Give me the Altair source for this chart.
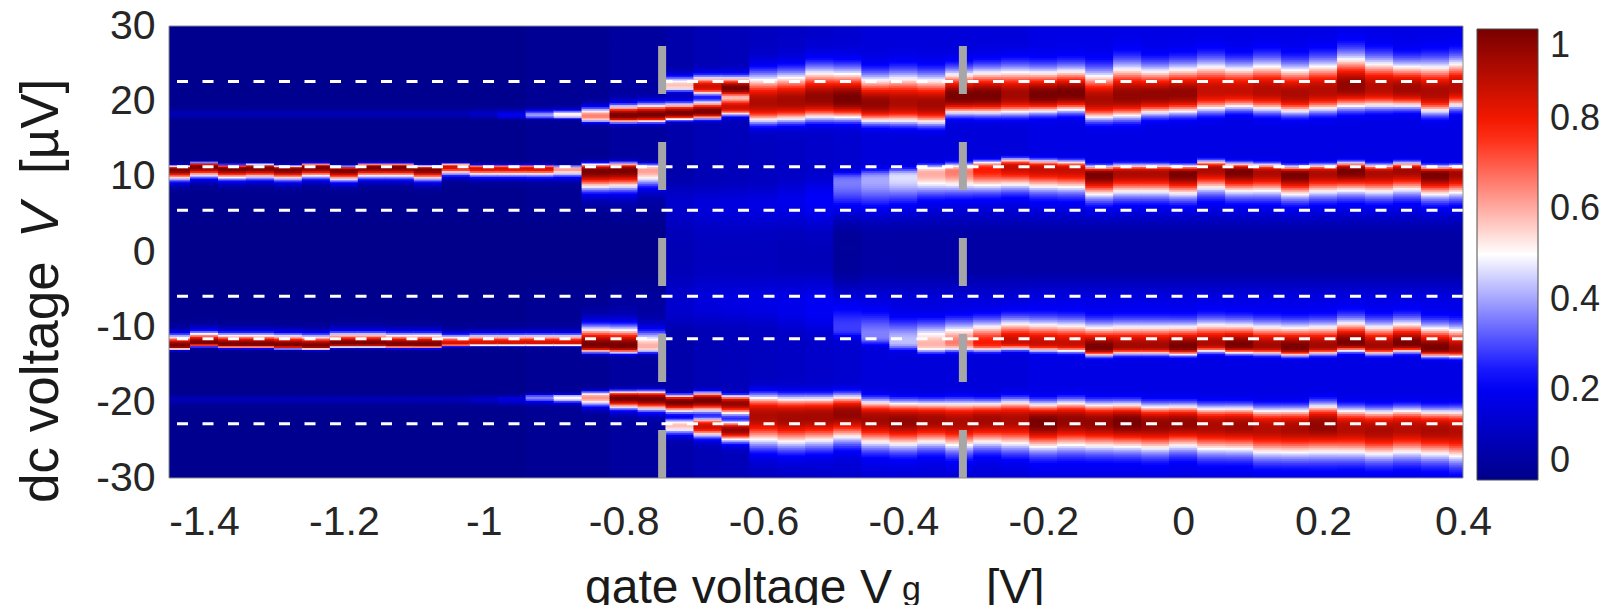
import altair as alt
import numpy as np
import pandas as pd

# ---------------- data ----------------
# gate-voltage column centres [V]
X_CENTERS = [-1.44, -1.40, -1.36, -1.32, -1.28, -1.24, -1.20, -1.16, -1.12, -1.08,
             -1.04, -1.00, -0.96, -0.92, -0.88, -0.84, -0.80, -0.76, -0.72, -0.68,
             -0.64, -0.60, -0.56, -0.52, -0.48, -0.44, -0.40, -0.36, -0.32, -0.28,
             -0.24, -0.20, -0.16, -0.12, -0.08, -0.04, 0.00, 0.04, 0.08, 0.12,
             0.16, 0.20, 0.24, 0.28, 0.32, 0.36, 0.40]
Y_STEP = 0.25

# upper inner band (~ +11 uV): centre, half-width, amplitude per column
UI_C = [10.9, 11.3, 11.0, 11.1, 10.9, 11.2, 10.8, 11.2, 11.2, 10.9,
        11.3, 11.1, 11.1, 11.1, 11.0, 10.7, 10.8, 10.8, 6.0, 5.5,
        5.5, 5.5, 6.0, 6.5, 9.2, 9.5, 9.8, 10.4, 10.6, 10.9,
        11.2, 11.0, 10.9, 10.2, 10.4, 10.4, 10.3, 10.9, 10.6, 10.5,
        10.2, 10.4, 10.7, 10.4, 10.7, 10.2, 10.3]
UI_H = [0.5] * 10 + [0.4] * 5 + [0.9, 0.9, 0.8] + [2.5] * 6 + [1.2, 1.2, 1.1, 1.0, 1.0] + [1.0] * 18
UI_A = [1, 1, 1, 1, 1, 1, 1, 1, 1, 1,
        0.85, 0.85, 0.85, 0.85, 0.62, 1, 1, 0.6, 0.07, 0.08,
        0.08, 0.08, 0.08, 0.1, 0.26, 0.3, 0.37, 0.53, 0.6, 0.75,
        0.85, 0.85, 0.85, 1.0, 0.9, 0.9, 1.0, 0.9, 1.0, 0.9,
        1.0, 0.9, 1.0, 0.9, 0.92, 1.0, 0.92]

# upper outer band (~ +18 .. +22 uV)
UO_C = [18.3] * 12 + [18.2, 18.2, 18.2, 18.1, 18.2, 18.3, 18.5, 18.7, 19.3,
        20.0, 20.2, 20.6, 20.5, 19.9, 20.0, 19.8, 20.8, 20.9, 21.0,
        21.0, 21.2, 20.4, 20.9, 21.0, 21.2, 21.6, 21.6, 21.6, 21.2,
        21.6, 22.2, 22.0, 21.8, 21.4, 22.0]
UO_H = [0.45] * 15 + [0.8, 0.9, 0.95, 0.85, 0.9, 1.0,
        2.45, 2.45, 2.55, 2.45, 2.3, 2.45, 2.4, 2.1, 2.2, 2.3,
        2.1, 2.1, 2.35, 2.6, 2.3, 2.35, 2.45, 2.2, 2.45, 2.35,
        2.45, 2.6, 2.4, 2.2, 2.5, 2.4]
UO_A = [0.07] * 11 + [0.1, 0.18, 0.38, 0.52, 0.65, 1.0, 1.0, 1.0, 1.0, 0.85,
        0.9, 0.92, 0.95, 1.0, 0.95, 0.9, 0.92, 1.0, 1.0, 0.92,
        1.0, 1.0, 0.9, 0.95, 0.95, 0.95, 0.85, 0.85, 0.88, 0.9,
        0.88, 0.95, 0.88, 0.92, 0.9, 0.88]

# lower inner band (~ -12 uV)
LI_C = [-12.4, -12.0, -12.2, -12.2, -12.3, -12.4, -12.1, -12.1, -12.2, -12.2,
        -12.1, -12.0, -12.0, -12.0, -12.0, -12.3, -12.4, -12.5, -7.0, -6.5,
        -6.5, -6.5, -7.0, -7.5, -10.0, -11.0, -11.8, -12.2, -12.0, -12.0,
        -11.8, -12.0, -12.1, -12.6, -12.4, -12.4, -12.5, -12.1, -12.3, -12.4,
        -12.6, -12.4, -12.0, -12.4, -12.1, -12.7, -12.8]
LI_H = [0.5] * 10 + [0.4] * 5 + [0.9, 0.9, 0.8] + [2.5] * 6 + [1.2, 1.1, 1.0, 1.0, 1.0] + [1.0] * 18
LI_A = [1, 1, 1, 1, 1, 1, 1, 1, 1, 1,
        0.85, 0.85, 0.85, 0.85, 0.85, 1, 1, 0.58, 0.07, 0.08,
        0.08, 0.08, 0.08, 0.09, 0.18, 0.25, 0.33, 0.52, 0.6, 0.75,
        0.85, 0.85, 0.85, 1.0, 0.92, 0.92, 1.0, 0.9, 1.0, 0.92,
        1.0, 0.92, 1.0, 0.92, 1.0, 1.0, 0.92]

# lower outer band (~ -19 .. -24 uV)
LO_C = [-19.6] * 13 + [-19.4, -19.4, -19.4, -19.5, -19.6, -20.0, -19.8, -20.2,
        -21.95, -22.15, -22.05, -21.7, -22.4, -22.6, -22.5, -22.7, -22.5, -22.5,
        -22.8, -22.6, -22.8, -22.8, -23.05, -22.9, -23.25, -23.25, -23.6, -23.6,
        -23.25, -23.6, -23.8, -23.6, -23.8, -23.95]
LO_H = [0.45] * 15 + [0.8, 0.9, 1.0, 0.9, 1.0, 1.0,
        2.55, 2.55, 2.45, 2.3, 2.3, 2.3, 2.2, 2.4, 2.2, 2.4,
        2.3, 2.35, 2.3, 2.3, 2.3, 2.2, 2.3, 2.3, 2.4, 2.4,
        2.55, 2.4, 2.4, 2.4, 2.4, 2.55]
LO_A = [0.07] * 11 + [0.1, 0.15, 0.35, 0.5, 0.62, 1.0, 1.0, 1.0, 1.0, 0.95,
        0.9, 0.92, 0.92, 0.95, 0.92, 0.95, 0.92, 0.9, 0.92, 0.9,
        1.0, 0.95, 0.95, 1.0, 0.95, 0.95, 0.9, 0.92, 0.88, 0.9,
        0.95, 0.88, 0.9, 0.88, 0.9, 0.88]

# split bands just right of the first grey marker: (column, centre, half-width, amplitude, band)
EXTRA = [(18, 22.2, 0.8, 0.55, "UO"), (19, 22.0, 0.95, 0.85, "UO"), (20, 21.8, 1.0, 1.0, "UO"),
         (18, -23.1, 0.8, 0.55, "LO"), (19, -23.2, 0.95, 0.85, "LO"), (20, -23.7, 1.0, 0.95, "LO")]

# background level far from zero bias and at zero bias
BG_OUT = [0.01] * 13 + [0.02] * 3 + [0.04] * 2 + [0.06, 0.08, 0.09, 0.10, 0.11, 0.12, 0.13] + [0.15] * 6 + [0.17] * 16
BG_CEN = [0.0] * 18 + [0.03] * 7 + [0.05] * 22

# dashed reference levels [uV] and gate markers [V]
H_LINES = [22.63, 11.31, 5.55, -5.87, -11.52, -22.81]
V_MARKS = [-0.745, -0.315]

X_TICKS = [-1.4, -1.2, -1.0, -0.8, -0.6, -0.4, -0.2, 0.0, 0.2, 0.4]
Y_TICKS = [-30, -20, -10, 0, 10, 20, 30]
C_TICKS = [0, 0.2, 0.4, 0.6, 0.8, 1]

for arr in (UI_C, UI_H, UI_A, UO_C, UO_H, UO_A, LI_C, LI_H, LI_A, LO_C, LO_H, LO_A, BG_OUT, BG_CEN):
    assert len(arr) == len(X_CENTERS), len(arr)

# ---------------- build the map ----------------
# which side of each band carries the longer tail (+1 = up), and its stretch
LONG = {"UI": (-1, 2.2), "UO": (1, 1.15), "LI": (1, 2.2), "LO": (-1, 1.15)}


def profile(v, c, h, band):
    side, fac = LONG[band]
    d = v - c
    longside = np.sign(d) == side
    hh = np.where(longside, h * fac, h)
    p = np.where(longside, 2.0, 3.0)
    return np.power(2.0, -np.power(np.abs(d) / hh, p))


ys = np.arange(-30 + Y_STEP / 2, 30, Y_STEP)
recs = []
for k, xc in enumerate(X_CENTERS):
    s = np.clip((np.abs(ys) - 2.0) / 5.0, 0, 1)
    s = s * s * (3 - 2 * s)
    bg = BG_CEN[k] + (BG_OUT[k] - BG_CEN[k]) * s
    keep = np.ones_like(ys)
    for band, C, H, A in (("UI", UI_C, UI_H, UI_A), ("UO", UO_C, UO_H, UO_A),
                          ("LI", LI_C, LI_H, LI_A), ("LO", LO_C, LO_H, LO_A)):
        keep *= 1 - A[k] * profile(ys, C[k], H[k], band)
    for (kk, c, h, a, band) in EXTRA:
        if kk == k:
            keep *= 1 - a * profile(ys, c, h, band)
    val = 1 - (1 - bg) * keep
    for y, v in zip(ys, val):
        recs.append((xc, round(float(y), 3), round(float(v), 3)))

heat_df = pd.DataFrame(recs, columns=["xc", "yc", "val"])

FONT = "Liberation Sans"
LABEL_COLOR = "#262626"

xscale = alt.Scale(domain=[-1.45, 0.4], nice=False, zero=False)
yscale = alt.Scale(domain=[-30, 30], nice=False, zero=False)
cscale = alt.Scale(domain=[0, 0.22, 0.5, 0.78, 1], interpolate="rgb",
                   range=["#00008a", "#0000ff", "#ffffff", "#ff1a00", "#780000"])

# cells overlap the next cell up / right a little so no seams show
heat = alt.Chart(heat_df).transform_calculate(
    x0="datum.xc - 0.02", x1="datum.xc + 0.023",
    y0="datum.yc - 0.125", y1="datum.yc + 0.28"
).mark_rect(clip=True).encode(
    x=alt.X("x0:Q", scale=xscale,
            axis=alt.Axis(values=X_TICKS, title=None, grid=False, ticks=False, domain=False,
                          labelFontSize=41, labelFont=FONT, labelColor=LABEL_COLOR,
                          labelPadding=24, labelFlush=False,
                          labelExpr="toString(round(datum.value*10)/10)")),
    x2="x1:Q",
    y=alt.Y("y0:Q", scale=yscale,
            axis=alt.Axis(values=Y_TICKS, title=None, grid=False, ticks=False, domain=False,
                          labelFontSize=41, labelFont=FONT, labelColor=LABEL_COLOR,
                          labelPadding=14, labelFlush=False,
                          labelExpr="toString(datum.value)")),
    y2="y1:Q",
    color=alt.Color("val:Q", scale=cscale,
                    legend=alt.Legend(orient="none", legendX=1308, legendY=3, direction="vertical",
                                      gradientLength=451, gradientThickness=61, title=None,
                                      values=C_TICKS, format=".1~f", labelFontSize=36,
                                      labelFont=FONT, labelColor=LABEL_COLOR, labelOffset=12,
                                      labelBaseline="middle",
                                      gradientStrokeColor="#4d4d4d", gradientStrokeWidth=1)),
)

hl = alt.Chart(pd.DataFrame({"v": H_LINES})).mark_rule(
    color="white", strokeWidth=3, strokeDash=[11, 14.5]
).encode(y=alt.Y("v:Q", scale=yscale))

vm = alt.Chart(pd.DataFrame({"g": V_MARKS})).mark_rule(
    color="#a6a6a6", strokeWidth=8, strokeDash=[48, 48]
).encode(x=alt.X("g:Q", scale=xscale), y=alt.datum(-30), y2=alt.datum(30))

frame = alt.Chart(pd.DataFrame({"a": [0]})).mark_rect(
    fillOpacity=0, stroke="#8c8c8c", strokeWidth=1
).encode(x=alt.value(0), x2=alt.value(1294), y=alt.value(0), y2=alt.value(452))


def txt(s, x, y, size, angle=0, style="normal", align="left"):
    return alt.Chart(pd.DataFrame({"t": [s]})).mark_text(
        font=FONT, fontSize=size, color="#1a1a1a", align=align, baseline="alphabetic",
        angle=angle, fontStyle=style
    ).encode(text="t:N", x=alt.value(x), y=alt.value(y))


titles = [
    txt("gate voltage V", 416, 577, 48),
    txt("g", 733, 574, 34),
    txt("[V]", 817, 577, 48),
    txt("dc voltage", -111, 477, 53, angle=270),
    txt("V", -111, 212, 53, angle=270, style="italic"),
    txt("[µV]", -111, 148, 53, angle=270),
]

chart = alt.layer(heat, hl, vm, frame, *titles).properties(
    width=1294, height=452,
    padding={"left": 161, "top": 18, "right": 139, "bottom": 127},
    autosize=alt.AutoSizeParams(type="none"),
).configure_view(stroke=None)

chart.save("out.html", embed_options={"renderer": "svg", "actions": False})
